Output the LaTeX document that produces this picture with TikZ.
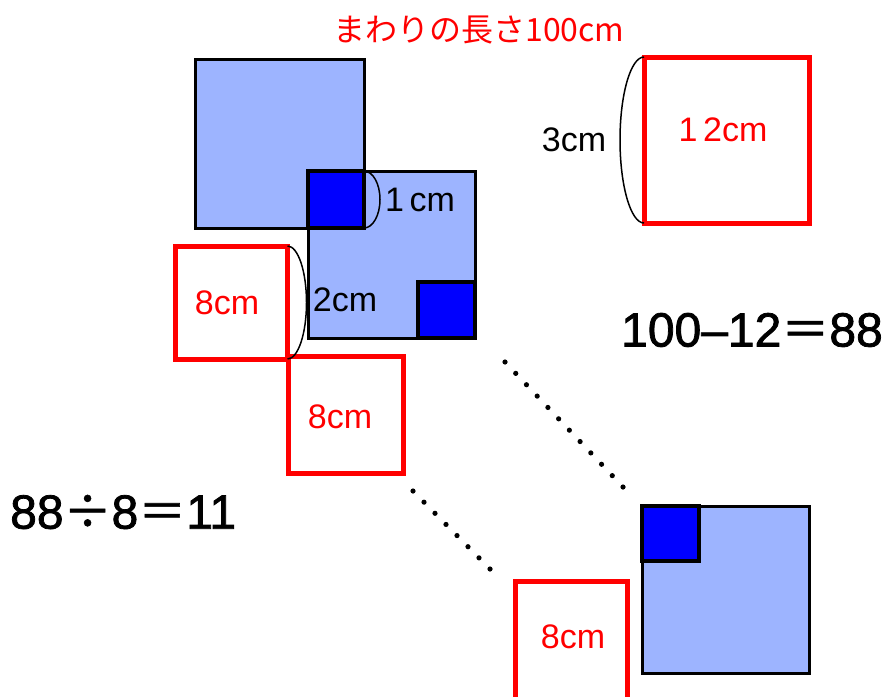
\documentclass[tikz,border=0pt]{standalone}
\usepackage{fontspec}
\setmainfont{Liberation Sans}
\newfontfamily\jpfont{Noto Sans CJK JP}
\newfontfamily\eqfont{Liberation Sans}[FakeBold=1.6]
\newfontfamily\jpeqfont{Noto Sans CJK JP}[FakeBold=1.2]
\usetikzlibrary{calc}

\definecolor{lightblue}{RGB}{157,180,255}
\definecolor{darkblue}{RGB}{0,0,255}
\definecolor{redline}{RGB}{255,0,0}

\tikzset{
  bluesq/.style={fill=lightblue, draw=black, line width=3pt},
  darksq/.style={fill=darkblue, draw=black, line width=3.5pt},
  redsq/.style={draw=redline, line width=5pt},
  lbl/.style={inner sep=0pt, font=\fontsize{34}{40}\selectfont},
  redlbl/.style={lbl, text=redline},
  bracket/.style={draw=black, line width=1.5pt},
  eqn/.style={inner sep=0pt, anchor=west, font=\eqfont\fontsize{48}{52}\selectfont},
  dot/.style={fill=black}
}

\begin{document}
\begin{tikzpicture}[x=1pt, y=-1pt]
    \useasboundingbox (0,0) rectangle (888,696);
    \clip (0,0) rectangle (888,696);

    % title
    \node[redlbl, font=\jpfont\fontsize{32}{36}\selectfont] (title) at (479,30) {まわりの長さ100cm};

    % blue squares
    \draw[bluesq] (195,59) rectangle (364,228);
    \draw[bluesq] (308,171) rectangle (475,338);
    \draw[darksq] (308,171) rectangle (364,228);
    \draw[darksq] (418,282) rectangle (475,338);
    \draw[bluesq] (642,506) rectangle (809,673);
    \draw[darksq] (642,506) rectangle (699,561);

    % red squares
    \draw[redsq] (175.5,246) rectangle (287.5,359.5);
    \draw[redsq] (288,356) rectangle (403,473);
    \draw[redsq] (644,57) rectangle (809,223);
    \draw[redsq] (515,581) rectangle (627,710);

    % brackets
    \draw[bracket] (364,171) arc[start angle=90, end angle=-90, x radius=16pt, y radius=28.5pt];
    \draw[bracket] (287.5,246) arc[start angle=90, end angle=-90, x radius=19pt, y radius=56.5pt];
    \draw[bracket] (644,57) arc[start angle=90, end angle=270, x radius=24pt, y radius=83pt];

    % labels
    \node[lbl] (onecm) at (420,200) {1\,cm};
    \node[lbl] (twocm) at (345,300) {2cm};
    \node[lbl] (threecm) at (574,140) {3cm};
    \node[redlbl] (twelvecm) at (723,130) {1\,2cm};
    \node[redlbl] (eightA) at (227,303) {8cm};
    \node[redlbl] (eightB) at (340,417) {8cm};
    \node[redlbl] (eightC) at (573,637) {8cm};

    % dotted lines
    \coordinate (dotAs) at (505,362);
    \coordinate (dotAe) at (623,487);
    \coordinate (dotBs) at (413,491);
    \coordinate (dotBe) at (490,569);
    \foreach \i in {0,...,11}
        \fill[dot] ($(dotAs)!\i/11!(dotAe)$) circle (2.6pt);
    \foreach \i in {0,...,7}
        \fill[dot] ($(dotBs)!\i/7!(dotBe)$) circle (2.6pt);

    % equations
    \node[eqn] (diff) at (621,330) {100–12{\jpeqfont ＝}88};
    \node[eqn] (quot) at (10,512) {88{\jpeqfont ÷}8{\jpeqfont ＝}11};

\end{tikzpicture}
\end{document}
